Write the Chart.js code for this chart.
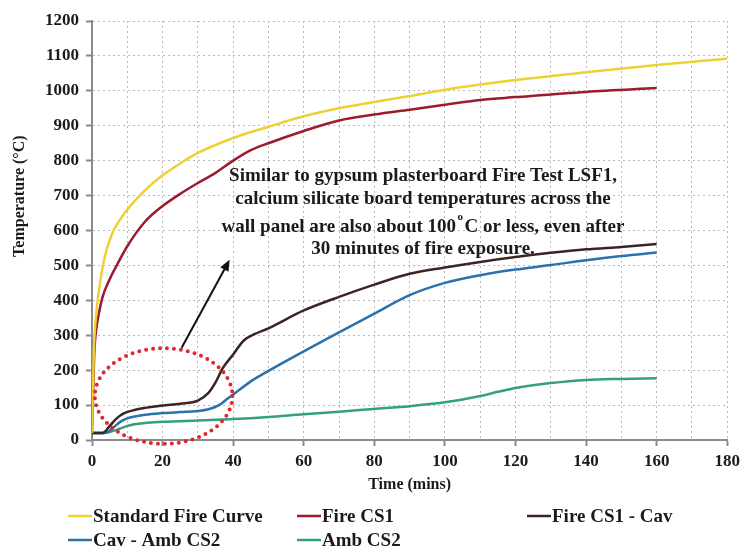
<!DOCTYPE html>
<html>
<head>
<meta charset="utf-8">
<title>Fire test CS - temperatures</title>
<script src="https://cdn.jsdelivr.net/npm/chart.js@4/dist/chart.umd.min.js"></script>
<style>
  html, body { margin: 0; padding: 0; background: #fff; }
  #wrap { width: 745px; height: 549px; }
</style>
</head>
<body>
<div id="wrap"><canvas id="tempCanvas" width="745" height="549"></canvas></div>
<script>
// Temperaturas (°C) x tempo (min).
const tStd    = [0, 0.5, 1, 2, 3, 4, 5, 6, 8, 10, 15, 20, 25, 30, 40, 50, 60, 70, 80, 90, 100, 110, 120, 140, 160, 180];
const stdFire = [20, 250, 340, 430, 495, 540, 572, 598, 632, 660, 715, 758, 792, 822, 865, 897, 927, 950, 968, 985, 1003, 1018, 1031, 1053, 1074, 1092];

const tCS1    = [0, 0.3, 0.6, 1, 2, 3, 5, 7, 10, 15, 20, 25, 30, 35, 40, 45, 50, 60, 70, 80, 90, 100, 110, 120, 140, 160];
const fireCS1 = [20, 120, 240, 300, 365, 410, 460, 500, 555, 625, 670, 705, 736, 765, 800, 830, 850, 885, 915, 932, 946, 960, 974, 982, 997, 1008];

const tCav1   = [0, 3, 5, 7, 9, 12, 15, 20, 25, 30, 33, 35, 37, 40, 43, 46, 50, 60, 70, 80, 90, 100, 110, 120, 130, 140, 150, 160];
const cavCS1  = [20, 20, 40, 62, 76, 86, 92, 99, 104, 113, 135, 165, 205, 245, 285, 303, 320, 371, 410, 445, 476, 494, 510, 524, 536, 546, 553, 561];

const tCav2   = [0, 4, 6, 8, 10, 15, 20, 25, 30, 33, 36, 38, 40, 45, 50, 60, 70, 80, 90, 100, 110, 120, 130, 140, 150, 160];
const cavCS2  = [20, 21, 35, 52, 62, 72, 77, 80, 83, 88, 100, 115, 130, 168, 198, 254, 308, 362, 415, 450, 472, 488, 501, 515, 527, 537];

const tAmb    = [0, 4, 6, 8, 10, 12, 15, 20, 30, 40, 50, 60, 70, 80, 90, 100, 105, 110, 115, 120, 130, 140, 150, 160];
const ambCS2  = [20, 21, 26, 33, 40, 45, 49, 52, 56, 60, 66, 74, 81, 89, 97, 108, 116, 126, 138, 149, 163, 172, 175, 177];

const SERIES_LABELS = ['Standard Fire Curve', 'Fire CS1', 'Fire CS1 - Cav', 'Cav - Amb CS2', 'Amb CS2'];
const SERIES_COLORS = ['#ecd034', '#9c1b2e', '#3d2424', '#2a72ae', '#34a07e'];

// Nota do gráfico, em coordenadas de dados (min, °C).
const NOTE_LINES = [
  'Similar to gypsum plasterboard Fire Test LSF1,',
  'calcium silicate board temperatures across the',
  ['wall panel are also about 100', 'o', 'C or less, even after'],
  '30 minutes of fire exposure.'
];
const NOTE_X = 93.8;
const NOTE_Y = [756, 690, 610, 547];
const ARROW_FROM = [25.4, 264];
const ARROW_TO   = [39, 516];
const RING = { t: 20.3, temp: 126, rt: 19.5, rtemp: 137 };

const SERIF = "'Liberation Serif', 'Times New Roman', serif";

function pts(ts, vs) { return ts.map((t, i) => ({ x: t, y: vs[i] })); }

const seriesData = [pts(tStd, stdFire), pts(tCS1, fireCS1), pts(tCav1, cavCS1), pts(tCav2, cavCS2), pts(tAmb, ambCS2)];

// Anel pontilhado, seta e texto da nota.
const notePlugin = {
  id: 'note',
  afterDatasetsDraw(chart) {
    const { ctx, scales: { x, y } } = chart;
    ctx.save();

    // anel vermelho pontilhado
    const cx = x.getPixelForValue(RING.t), cy = y.getPixelForValue(RING.temp);
    const rx = x.getPixelForValue(RING.t + RING.rt) - cx;
    const ry = cy - y.getPixelForValue(RING.temp + RING.rtemp);
    ctx.beginPath();
    ctx.ellipse(cx, cy, rx, ry, 0, 0, Math.PI * 2);
    ctx.strokeStyle = '#e3262b';
    ctx.lineWidth = 4;
    ctx.lineCap = 'round';
    ctx.setLineDash([0, 7]);
    ctx.stroke();
    ctx.setLineDash([]);

    // seta
    const x1 = x.getPixelForValue(ARROW_FROM[0]), y1 = y.getPixelForValue(ARROW_FROM[1]);
    const x2 = x.getPixelForValue(ARROW_TO[0]),   y2 = y.getPixelForValue(ARROW_TO[1]);
    const ang = Math.atan2(y2 - y1, x2 - x1);
    const head = 12;
    ctx.strokeStyle = '#111';
    ctx.fillStyle = '#111';
    ctx.lineWidth = 2;
    ctx.lineCap = 'butt';
    ctx.beginPath();
    ctx.moveTo(x1, y1);
    ctx.lineTo(x2 - Math.cos(ang) * head * 0.8, y2 - Math.sin(ang) * head * 0.8);
    ctx.stroke();
    ctx.beginPath();
    ctx.moveTo(x2, y2);
    ctx.lineTo(x2 - head * Math.cos(ang - 0.4), y2 - head * Math.sin(ang - 0.4));
    ctx.lineTo(x2 - head * Math.cos(ang + 0.4), y2 - head * Math.sin(ang + 0.4));
    ctx.closePath();
    ctx.fill();

    // texto
    const cxText = x.getPixelForValue(NOTE_X);
    ctx.fillStyle = '#1a1a1a';
    ctx.textBaseline = 'middle';
    const mainFont = 'bold 19px ' + SERIF;
    const supFont = 'bold 11px ' + SERIF;
    NOTE_LINES.forEach((line, i) => {
      const ly = y.getPixelForValue(NOTE_Y[i]);
      if (typeof line === 'string') {
        ctx.font = mainFont;
        ctx.textAlign = 'center';
        ctx.fillText(line, cxText, ly);
        return;
      }
      // linha com o "o" sobrescrito
      ctx.font = mainFont;
      const w1 = ctx.measureText(line[0]).width;
      const w3 = ctx.measureText(line[2]).width;
      ctx.font = supFont;
      const w2 = ctx.measureText(line[1]).width + 3;
      let lx = cxText - (w1 + w2 + w3) / 2;
      ctx.textAlign = 'left';
      ctx.font = mainFont;
      ctx.fillText(line[0], lx, ly);
      lx += w1;
      ctx.font = supFont;
      ctx.fillText(line[1], lx + 1.5, ly - 10);
      lx += w2;
      ctx.font = mainFont;
      ctx.fillText(line[2], lx, ly);
    });
    ctx.restore();
  },
  afterDraw(chart) {
    const { ctx, chartArea } = chart;
    ctx.save();

    // título do eixo Y (desenhado à mão para ficar acima do centro, como no original)
    ctx.translate(20, chartArea.top + (chartArea.bottom - chartArea.top) * 0.418);
    ctx.rotate(-Math.PI / 2);
    ctx.font = 'bold 16px ' + SERIF;
    ctx.fillStyle = '#1a1a1a';
    ctx.textAlign = 'center';
    ctx.textBaseline = 'middle';
    ctx.fillText('Temperature (\u00B0C)', 0, 0);
    ctx.setTransform(1, 0, 0, 1, 0, 0);

    // legenda em 3 colunas
    const colX = [68, 297, 527];
    const rowY = [516, 540];
    ctx.font = 'bold 19px ' + SERIF;
    ctx.textAlign = 'left';
    ctx.textBaseline = 'middle';
    chart.data.datasets.forEach((ds, i) => {
      const lx = colX[i % 3], ly = rowY[Math.floor(i / 3)];
      ctx.strokeStyle = ds.borderColor;
      ctx.lineWidth = 2.5;
      ctx.beginPath();
      ctx.moveTo(lx, ly);
      ctx.lineTo(lx + 24, ly);
      ctx.stroke();
      ctx.fillStyle = '#1a1a1a';
      ctx.fillText(ds.label, lx + 25, ly + 1);
    });
    ctx.restore();
  }
};

const gridGray = '#b9b9b9';
const axisGray = '#8a8a8a';

new Chart(document.getElementById('tempCanvas'), {
  type: 'line',
  data: {
    datasets: SERIES_LABELS.map((label, i) => ({
      label: label,
      data: seriesData[i],
      borderColor: SERIES_COLORS[i],
      backgroundColor: SERIES_COLORS[i],
      borderWidth: 2.5,
      pointRadius: 0,
      cubicInterpolationMode: 'monotone',
      fill: false
    }))
  },
  options: {
    responsive: false,
    animation: false,
    layout: { padding: { left: 0, right: 16, top: 21, bottom: 55 } },
    plugins: { legend: { display: false }, tooltip: { enabled: false } },
    scales: {
      x: {
        type: 'linear',
        min: 0,
        max: 180,
        ticks: {
          stepSize: 10,
          autoSkip: false,
          maxRotation: 0,
          padding: 5,
          color: '#1a1a1a',
          font: { family: SERIF, size: 17, weight: 'bold' },
          callback: v => (v % 20 === 0 ? String(v) : '')
        },
        grid: {
          color: gridGray,
          lineWidth: 1,
          tickLength: 6,
          tickWidth: 2,
          tickColor: c => (c.tick && c.tick.value % 20 === 0 ? axisGray : 'rgba(0,0,0,0)')
        },
        border: { color: axisGray, width: 2, dash: [2, 3] },
        title: {
          display: true,
          text: 'Time (mins)',
          color: '#1a1a1a',
          font: { family: SERIF, size: 16, weight: 'bold' },
          padding: { top: 0, bottom: 0 }
        },
        afterFit: s => { s.height = 54; }
      },
      y: {
        min: 0,
        max: 1200,
        ticks: {
          stepSize: 100,
          padding: 7,
          color: '#1a1a1a',
          font: { family: SERIF, size: 17, weight: 'bold' },
          callback: v => String(v)
        },
        grid: { color: gridGray, lineWidth: 1, tickLength: 6, tickWidth: 2, tickColor: axisGray },
        border: { color: axisGray, width: 2, dash: [2, 3] },
        afterFit: s => { s.width = 92; }
      }
    }
  },
  plugins: [notePlugin]
});
</script>
</body>
</html>
